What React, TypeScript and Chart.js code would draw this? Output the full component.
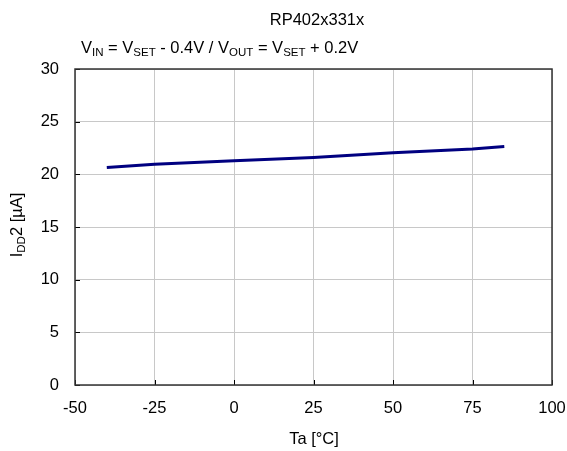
import React, { useEffect, useRef } from "react";
import { Chart, registerables } from "chart.js";

Chart.register(...registerables);

const temps = [-40, -25, 0, 25, 50, 75, 85];
const idd2 = [20.65, 20.95, 21.3, 21.6, 22.05, 22.4, 22.65];
const xTicks = [-50, -25, 0, 25, 50, 75, 100];
const yTicks = [0, 5, 10, 15, 20, 25, 30];
const chartTitle = "RP402x331x";
const xTitle = "Ta [°C]";

const FONT = "Liberation Sans, Arial, sans-serif";
const FS = 16.5;
const SUB = 11.5;

type Seg = { t: string; sub?: boolean };

function drawRich(ctx: CanvasRenderingContext2D, segs: Seg[], x: number, y: number) {
  let cx = x;
  for (const s of segs) {
    ctx.font = `${s.sub ? SUB : FS}px ${FONT}`;
    ctx.fillText(s.t, cx, s.sub ? y + 3 : y);
    cx += ctx.measureText(s.t).width;
  }
  return cx - x;
}

function richWidth(ctx: CanvasRenderingContext2D, segs: Seg[]) {
  let w = 0;
  for (const s of segs) {
    ctx.font = `${s.sub ? SUB : FS}px ${FONT}`;
    w += ctx.measureText(s.t).width;
  }
  return w;
}

const decor = {
  id: "decor",
  afterDraw(chart: any) {
    const ctx: CanvasRenderingContext2D = chart.ctx;
    const { left, right, top, bottom } = chart.chartArea;
    const xs = chart.scales.x;
    const ys = chart.scales.y;
    ctx.save();
    ctx.strokeStyle = "#000";
    ctx.lineWidth = 1;
    ctx.beginPath();
    for (const v of xTicks) {
      const px = Math.round(xs.getPixelForValue(v)) + 0.5;
      ctx.moveTo(px, bottom);
      ctx.lineTo(px, bottom - 5);
    }
    for (const v of yTicks) {
      const py = Math.round(ys.getPixelForValue(v)) + 0.5;
      ctx.moveTo(left, py);
      ctx.lineTo(left + 5, py);
    }
    ctx.stroke();
    ctx.strokeStyle = "#333";
    ctx.lineWidth = 1.5;
    ctx.strokeRect(left, top, right - left, bottom - top);

    ctx.fillStyle = "#000";
    ctx.textBaseline = "alphabetic";
    ctx.textAlign = "left";
    ctx.font = `${FS}px ${FONT}`;
    const tw = ctx.measureText(chartTitle).width;
    ctx.fillText(chartTitle, 317 - tw / 2, 25);
    const sub: Seg[] = [
      { t: "V" }, { t: "IN", sub: true }, { t: " = V" }, { t: "SET", sub: true },
      { t: " - 0.4V / V" }, { t: "OUT", sub: true }, { t: " = V" }, { t: "SET", sub: true }, { t: " + 0.2V" },
    ];
    drawRich(ctx, sub, 81, 53);
    ctx.font = `${FS}px ${FONT}`;
    const xw = ctx.measureText(xTitle).width;
    ctx.fillText(xTitle, 314 - xw / 2, 444);
    const yl: Seg[] = [{ t: "I" }, { t: "DD", sub: true }, { t: "2 [µA]" }];
    const yw = richWidth(ctx, yl);
    ctx.translate(22, (top + bottom) / 2 - 2);
    ctx.rotate(-Math.PI / 2);
    drawRich(ctx, yl, -yw / 2, 0);
    ctx.restore();
  },
};

export default function App() {
  const ref = useRef<HTMLCanvasElement>(null);
  useEffect(() => {
    document.body.style.margin = "0";
    const chart = new Chart(ref.current!, {
      type: "line",
      data: {
        datasets: [
          {
            data: temps.map((t, i) => ({ x: t, y: idd2[i] })),
            borderColor: "#000080",
            borderWidth: 3,
            pointRadius: 0,
            tension: 0,
          },
        ],
      },
      options: {
        responsive: false,
        animation: false,
        layout: { padding: { top: 69, right: 15, left: 0, bottom: 0 } },
        plugins: { legend: { display: false }, tooltip: { enabled: false }, title: { display: false } },
        scales: {
          x: {
            type: "linear",
            min: -50,
            max: 100,
            afterBuildTicks: (s: any) => { s.ticks = xTicks.map((v) => ({ value: v })); },
            afterFit: (s: any) => { s.height = 66; s.paddingLeft = 0; s.paddingRight = 0; },
            grid: { color: "#c8c8c8", lineWidth: 1, drawTicks: false },
            border: { display: false },
            ticks: { padding: 14, color: "#000", font: { family: FONT, size: FS }, maxRotation: 0 },
          },
          y: {
            type: "linear",
            min: 0,
            max: 30,
            afterBuildTicks: (s: any) => { s.ticks = yTicks.map((v) => ({ value: v })); },
            afterFit: (s: any) => { s.width = 75; s.paddingTop = 0; s.paddingBottom = 0; },
            grid: { color: "#c8c8c8", lineWidth: 1, drawTicks: false },
            border: { display: false },
            ticks: { padding: 16, color: "#000", font: { family: FONT, size: FS } },
          },
        },
      },
      plugins: [decor],
    });
    return () => chart.destroy();
  }, []);
  return <canvas ref={ref} width={567} height={451} style={{ display: "block" }} />;
}
